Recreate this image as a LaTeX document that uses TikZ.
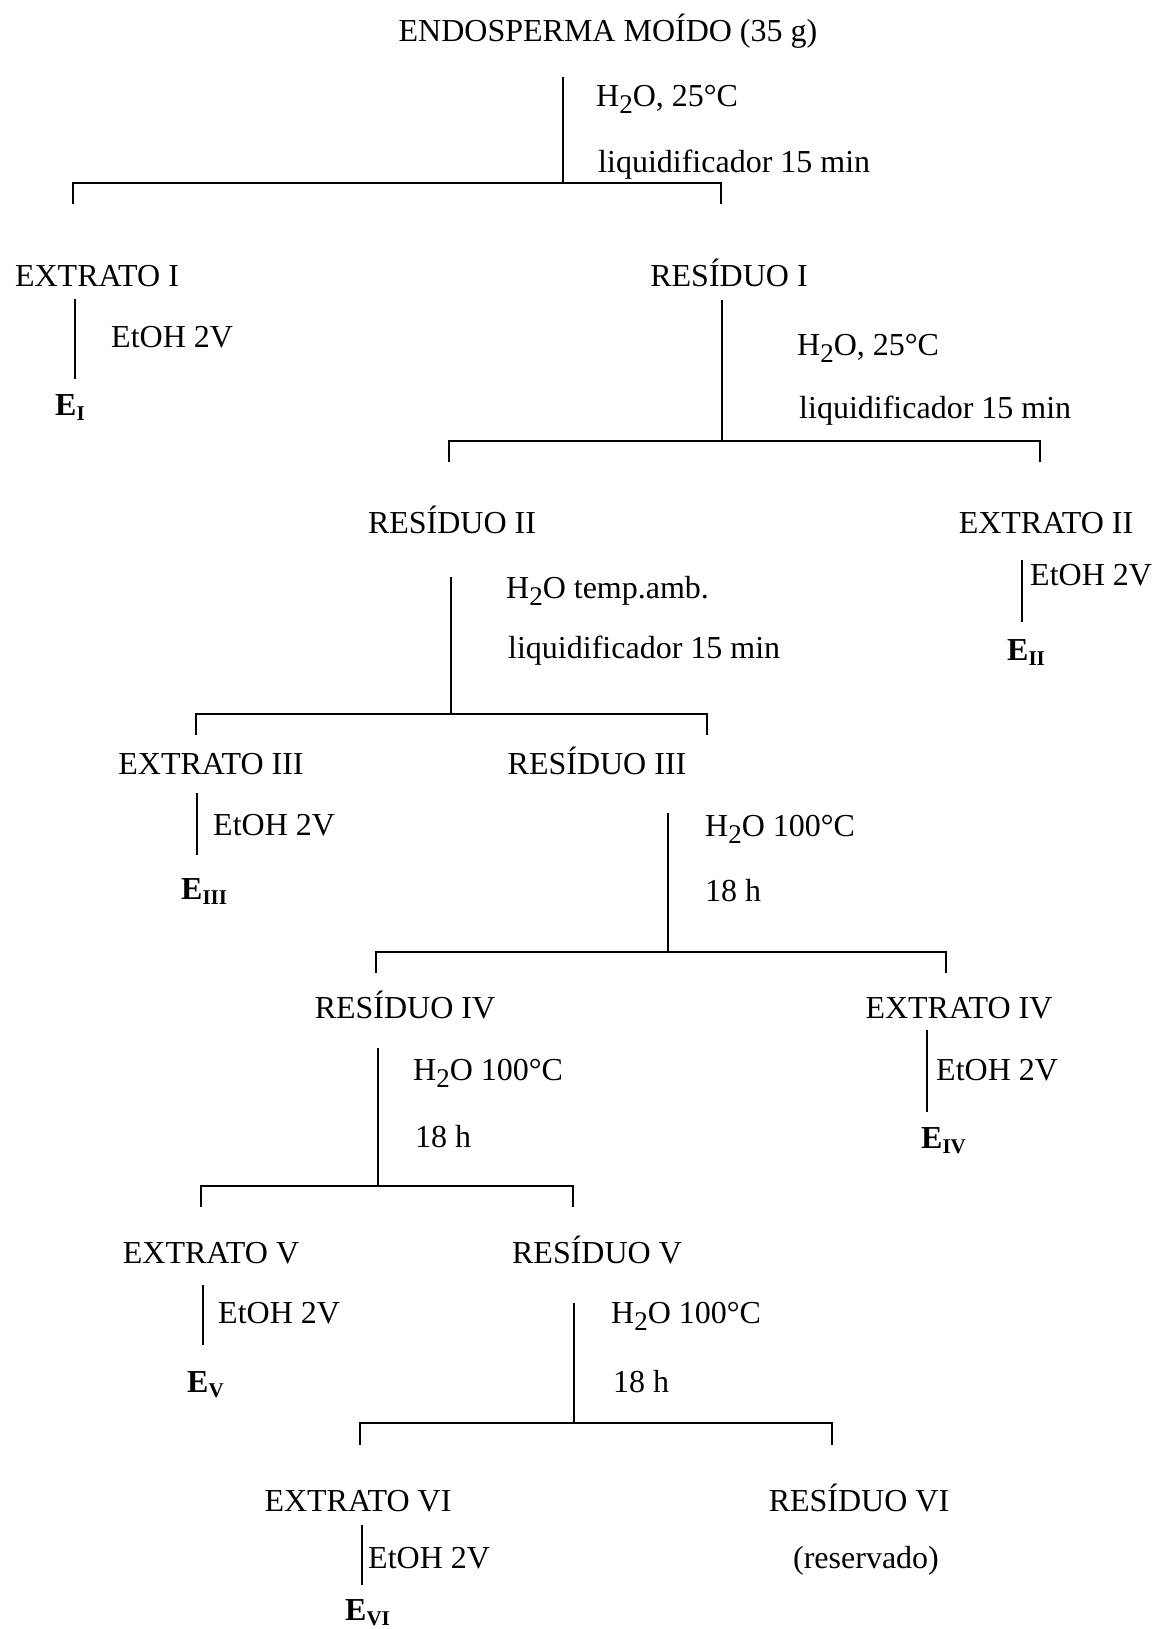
\documentclass[tikz,border=0pt]{standalone}
\usepackage{fontspec}
\setmainfont{Liberation Serif}
\newcommand{\Hdois}{H\raisebox{-7pt}{\fontsize{27}{27}\selectfont 2}O}
\newcommand{\Esub}[1]{\textbf{E}\raisebox{-5pt}{\fontsize{21}{21}\selectfont\textbf{#1}}}
\begin{document}
\begin{tikzpicture}[x=1pt,y=-1pt,
  every node/.style={inner sep=0pt, font=\fontsize{32}{38}\selectfont},
  ttl/.style={anchor=base},
  lbl/.style={anchor=base west},
  vline/.style={line width=2.2pt},
  brk/.style={line width=2.8pt, line join=miter}]
\useasboundingbox (0,0) rectangle (1152,1629);
% nodes
\node[ttl] (top) at (608,42) {ENDOSPERMA MOÍDO (35 g)};
\node[lbl] (c1a) at (596,107) {\Hdois, 25°C};
\node[lbl] (c1b) at (598,173) {liquidificador 15 min};
\node[ttl] (ext1) at (97,287) {EXTRATO I};
\node[ttl] (res1) at (729,287) {RESÍDUO I};
\node[lbl] (c2) at (111,347) {EtOH 2V};
\node[lbl] (e1) at (55,415) {\Esub{I}};
\node[lbl] (c3a) at (797,355) {\Hdois, 25°C};
\node[lbl] (c3b) at (799,418) {liquidificador 15 min};
\node[ttl] (res2) at (452,533) {RESÍDUO II};
\node[ttl] (ext2) at (1046,533) {EXTRATO II};
\node[lbl] (c4a) at (506,598) {\Hdois\ temp.amb.};
\node[lbl] (c4b) at (508,658) {liquidificador 15 min};
\node[lbl] (c5) at (1030,585) {EtOH 2V};
\node[lbl] (e2) at (1007,660) {\Esub{II}};
\node[ttl] (ext3) at (211,774) {EXTRATO III};
\node[ttl] (res3) at (597,774) {RESÍDUO III};
\node[lbl] (c6) at (213,835) {EtOH 2V};
\node[lbl] (e3) at (181,899) {\Esub{III}};
\node[lbl] (c7a) at (705,836) {\Hdois\ 100°C};
\node[lbl] (c7b) at (705,901) {18 h};
\node[ttl] (res4) at (405,1018) {RESÍDUO IV};
\node[ttl] (ext4) at (959,1018) {EXTRATO IV};
\node[lbl] (c8a) at (413,1080) {\Hdois\ 100°C};
\node[lbl] (c8b) at (415,1147) {18 h};
\node[lbl] (c9) at (936,1080) {EtOH 2V};
\node[lbl] (e4) at (921,1148) {\Esub{IV}};
\node[ttl] (ext5) at (211,1263) {EXTRATO V};
\node[ttl] (res5) at (597,1263) {RESÍDUO V};
\node[lbl] (c10) at (218,1323) {EtOH 2V};
\node[lbl] (e5) at (187,1392) {\Esub{V}};
\node[lbl] (c11a) at (611,1323) {\Hdois\ 100°C};
\node[lbl] (c11b) at (613,1392) {18 h};
\node[ttl] (ext6) at (358,1511) {EXTRATO VI};
\node[ttl] (res6) at (859,1511) {RESÍDUO VI};
\node[lbl] (c12) at (368,1568) {EtOH 2V};
\node[ttl] (resv) at (866,1568) {(reservado)};
\node[lbl] (e6) at (345,1620) {\Esub{VI}};
% coordinates
\coordinate (t0) at (563,77);   \coordinate (t1) at (563,183);
\coordinate (b1l) at (73,204);  \coordinate (b1r) at (721,204);
\coordinate (x1a) at (75,299);  \coordinate (x1b) at (75,379);
\coordinate (r1a) at (722,300); \coordinate (r1b) at (722,441);
\coordinate (b2l) at (449,462); \coordinate (b2r) at (1040,462);
\coordinate (r2a) at (451,577); \coordinate (r2b) at (451,714);
\coordinate (b3l) at (196,735); \coordinate (b3r) at (707,735);
\coordinate (x2a) at (1022,560); \coordinate (x2b) at (1022,622);
\coordinate (x3a) at (197,793); \coordinate (x3b) at (197,855);
\coordinate (r3a) at (668,813); \coordinate (r3b) at (668,952);
\coordinate (b4l) at (376,973); \coordinate (b4r) at (946,973);
\coordinate (r4a) at (378,1048); \coordinate (r4b) at (378,1186);
\coordinate (b5l) at (201,1207); \coordinate (b5r) at (573,1207);
\coordinate (x4a) at (927,1030); \coordinate (x4b) at (927,1112);
\coordinate (x5a) at (203,1285); \coordinate (x5b) at (203,1345);
\coordinate (r5a) at (574,1303); \coordinate (r5b) at (574,1423);
\coordinate (b6l) at (360,1445); \coordinate (b6r) at (832,1445);
\coordinate (x6a) at (362,1525); \coordinate (x6b) at (362,1585);
% vertical lines
\draw[vline] (t0) -- (t1);
\draw[vline] (x1a) -- (x1b);
\draw[vline] (r1a) -- (r1b);
\draw[vline] (r2a) -- (r2b);
\draw[vline] (x2a) -- (x2b);
\draw[vline] (x3a) -- (x3b);
\draw[vline] (r3a) -- (r3b);
\draw[vline] (r4a) -- (r4b);
\draw[vline] (x4a) -- (x4b);
\draw[vline] (x5a) -- (x5b);
\draw[vline] (r5a) -- (r5b);
\draw[vline] (x6a) -- (x6b);
% brackets
\draw[brk] (b1l) -- (b1l |- t1) -- (b1r |- t1) -- (b1r);
\draw[brk] (b2l) -- (b2l |- r1b) -- (b2r |- r1b) -- (b2r);
\draw[brk] (b3l) -- (b3l |- r2b) -- (b3r |- r2b) -- (b3r);
\draw[brk] (b4l) -- (b4l |- r3b) -- (b4r |- r3b) -- (b4r);
\draw[brk] (b5l) -- (b5l |- r4b) -- (b5r |- r4b) -- (b5r);
\draw[brk] (b6l) -- (b6l |- r5b) -- (b6r |- r5b) -- (b6r);
\end{tikzpicture}
\end{document}
